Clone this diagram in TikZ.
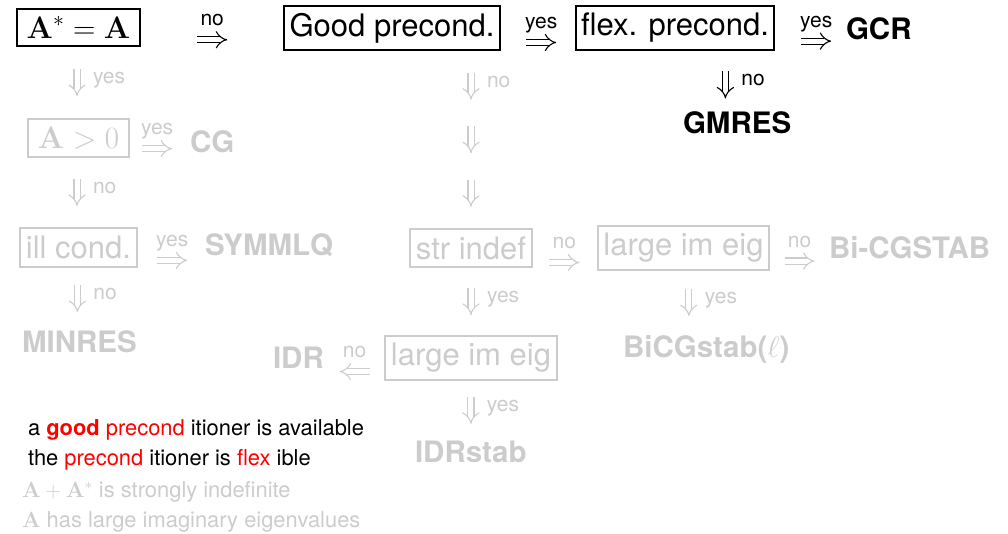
\RequirePackage{fix-cm}
\documentclass[tikz,border=0pt]{standalone}
\usepackage{amsmath}
\usepackage[no-math]{fontspec}
\setmainfont{TeX Gyre Heros}
\usetikzlibrary{arrows.meta,calc}

\definecolor{faded}{gray}{0.8}

% horizontal implication between two anchors: [style]{from}{to}{dx}{dy}{label}
\newcommand\rconn[6][]{%
  \draw[imp,#1] ($(#2)!.5!(#3)+(#4-15,#5)$) --
    node[lab,anchor=base,yshift=14pt]{#6} ($(#2)!.5!(#3)+(#4+15,#5)$);}
% same, pointing left
\newcommand\lconn[6][]{%
  \draw[imp,#1] ($(#2)!.5!(#3)+(#4+15,#5)$) --
    node[lab,anchor=base,yshift=14pt]{#6} ($(#2)!.5!(#3)+(#4-15,#5)$);}
% downward implication: [style]{from}{to}{fraction}{dx}{label}
\newcommand\dconn[6][]{%
  \draw[imp,#1] ($(#2)!#4!(#3)+(#5,-13.5)$) --
    node[lab,anchor=base west,xshift=16pt,yshift=-1pt]{#6} ($(#2)!#4!(#3)+(#5,13.5)$);}

\begin{document}
\begin{tikzpicture}[x=1pt,y=-1pt,
  every node/.style={inner sep=0pt,outer sep=0pt},
  box/.style={draw,line width=2pt,inner xsep=5.5pt,inner ysep=7.5pt,
    font=\fontsize{31}{37}\selectfont},
  mathbox/.style={box,inner xsep=10pt},
  method/.style={anchor=base west,font=\fontsize{29.5}{35}\selectfont\bfseries},
  lab/.style={font=\fontsize{21}{25}\selectfont},
  legend/.style={anchor=base west,font=\fontsize{21.9}{26}\selectfont},
  imp/.style={double,double distance=5pt,line width=1.1pt,-{Implies}},
  off/.style={color=faded},
]
\useasboundingbox (0,0) rectangle (1008,533);

% decision boxes
\node[mathbox] (herm) at (78.5,27.5) {$\mathbf{A}^*=\mathbf{A}$};
\node[box] (good) at (392,28) {Good precond.};
\node[box] (flex) at (675,28) {flex. precond.};
\node[mathbox,off] (pos) at (78.5,138) {$\mathbf{A}>0$};
\node[box,off] (ill) at (78.5,247.5) {ill cond.};
\node[box,off] (str) at (471,248) {str indef};
\node[box,off] (eigA) at (683.5,248) {large im eig};
\node[box,off] (eigB) at (471,358) {large im eig};

% methods
\node[method] (gcr) at (846,39) {GCR};
\node[method] (gmres) at (683,133) {GMRES};
\node[method,off] (cg) at (190,152) {CG};
\node[method,off] (symmlq) at (205,255.5) {SYMMLQ};
\node[method,off] (bicgstab) at (829,258) {Bi-CGSTAB};
\node[method,off] (minres) at (22,352.5) {MINRES};
\node[method,off] (idr) at (273,368) {IDR};
\node[method,off] (bicgstabl) at (623,357) {BiCGstab($\ell$)};
\node[method,off] (idrstab) at (415,462) {IDRstab};

% top of the middle column
\coordinate (gs) at (str.north |- good.south);

% horizontal branches
\rconn{herm.east}{good.west}{0}{12}{no}
\rconn{good.east}{flex.west}{3.5}{14.5}{yes}
\rconn{flex.east}{gcr.west}{6}{13}{yes}
\rconn[off]{pos.east}{cg.west}{-2.5}{9}{yes}
\rconn[off]{ill.east}{symmlq.west}{1.5}{14}{yes}
\rconn[off]{str.east}{eigA.west}{-0.5}{14.5}{no}
\rconn[off]{eigA.east}{bicgstab.west}{0.5}{13.5}{no}
\lconn[off]{eigB.west}{idr.east}{0}{14}{no}

% vertical branches
\dconn[off]{herm.south}{pos.north}{0.5}{-1.5}{yes}
\dconn[off]{pos.south}{ill.north}{0.5}{-1.5}{no}
\dconn[off]{ill.south}{minres.north}{0.5}{-1.5}{no}
\dconn[off]{gs}{str.north}{0.2}{0}{no}
\dconn[off]{gs}{str.north}{0.5}{0}{}
\dconn[off]{gs}{str.north}{0.8}{0}{}
\dconn{flex.south}{gmres.north}{0.57}{15}{no}
\dconn[off]{str.south}{eigB.north}{0.5}{0}{yes}
\dconn[off]{eigA.south}{bicgstabl.north}{0.5}{-6}{yes}
\dconn[off]{eigB.south}{idrstab.north}{0.5}{0}{yes}

% key to the abbreviations
\node[legend] (k1) at (28,435) {a \textbf{\color{red}good} {\color{red}precond} itioner is available};
\node[legend] (k2) at (28,465) {the {\color{red}precond} itioner is {\color{red}flex} ible};
\node[legend,off] (k3) at (22,497) {$\mathbf{A}+\mathbf{A}^*$ is strongly indefinite};
\node[legend,off] (k4) at (22,527) {$\mathbf{A}$ has large imaginary eigenvalues};
\end{tikzpicture}
\end{document}
